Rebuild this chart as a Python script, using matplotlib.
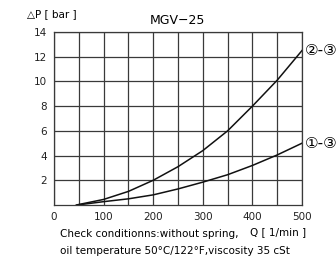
import matplotlib
matplotlib.use("Agg")
import matplotlib.pyplot as plt

plt.rcParams['font.family'] = ['DejaVu Sans', 'Noto Sans CJK SC']

flow = [0, 100, 200, 300, 400, 500]
dp_ticks = [2, 4, 6, 8, 10, 12, 14]

q1 = [47, 100, 150, 200, 250, 300, 350, 400, 450, 500]
dp1 = [0.0, 0.27, 0.5, 0.82, 1.3, 1.85, 2.45, 3.2, 4.05, 5.0]
q2 = [45, 100, 150, 200, 250, 300, 350, 400, 450, 500]
dp2 = [0.0, 0.45, 1.1, 2.0, 3.1, 4.4, 6.0, 8.0, 10.1, 12.5]
labels = ["①-③", "②-③"]

fig = plt.figure(figsize=(3.36, 2.58), dpi=100)
ax = fig.add_axes([54/336, 1-205/258, 248/336, 173/258])
ax.set_xlim(0, 500)
ax.set_ylim(0, 14)
ax.set_xticks(flow)
ax.set_yticks(dp_ticks)
ax.set_xticks(range(0, 501, 50), minor=True)
gc = '#3a3a3a'
ax.grid(True, which='both', color=gc, linewidth=0.9)
ax.tick_params(which='both', length=0, labelsize=7.5, colors='#222222', pad=5)
for s in ax.spines.values():
    s.set_color(gc)
    s.set_linewidth(0.9)

ax.plot(q1, dp1, color='#111111', linewidth=1.1, clip_on=False)
ax.plot(q2, dp2, color='#111111', linewidth=1.1, clip_on=False)
ax.text(505, dp1[-1], labels[0], fontsize=11, va='center', ha='left', clip_on=False)
ax.text(505, dp2[-1], labels[1], fontsize=11, va='center', ha='left', clip_on=False)

fig.text(177/336, 1-20/258, "MGV−25", fontsize=9, ha='center', va='center')
fig.text(27/336, 1-14/258, "△P [ bar ]", fontsize=7.5, ha='left', va='center')
fig.text(250/336, 1-232/258, "Q [ 1/min ]", fontsize=7.5, ha='left', va='center')
fig.text(60/336, 1-234/258, "Check conditionns:without spring,", fontsize=7.5, ha='left', va='center')
fig.text(60/336, 1-251/258, "oil temperature 50°C/122°F,viscosity 35 cSt", fontsize=7.5, ha='left', va='center')

fig.savefig("out.png", dpi=100)
